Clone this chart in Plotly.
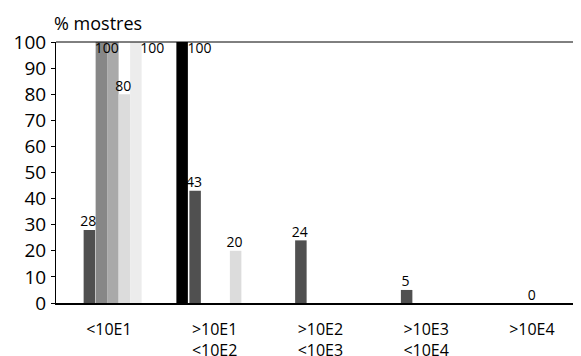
import plotly.graph_objects as go
import numpy as np

# ---- data ----
categories = ["&lt;10E1", "&gt;10E1<br>&lt;10E2", "&gt;10E2<br>&lt;10E3",
              "&gt;10E3<br>&lt;10E4", "&gt;10E4"]
y_tick_vals = list(range(0, 101, 10))
y_title = "% mostres"

black_vals = [None, 100, None, None, None]
dark_vals = [28, 43, 24, 5, None]
mid_vals = [100, None, None, None, None]
gray_vals = [100, None, None, None, None]
light_vals = [80, None, None, None, None]
pale_vals = [100, None, None, None, None]
light2_vals = [None, 20, None, None, None]
zero_vals = [None, None, None, None, 0]

# ---- styles (pixel offsets relative to category centre) ----
CAT_PX = 105.75
BAR_PX = 11.5
PAGE_PAD = 8          # default body margin of the written page
FIG_W, FIG_H = 581, 356
M_L, M_T = 56 - PAGE_PAD, 42 - PAGE_PAD
M_B = FIG_H - (303 - PAGE_PAD)
PLOT_W = FIG_W - M_L
series = [
    # values, colour, bar centre px, label dx px, show label
    (black_vals, "#000000", -32.5, 17.5, True),
    (dark_vals, "#505050", -19.5, -1.0, True),
    (mid_vals, "#878787", -7.5, 5.5, True),
    (gray_vals, "#a9a9a9", 4.0, 0.0, False),
    (light_vals, "#dcdcdc", 15.5, -1.0, True),
    (pale_vals, "#ececec", 27.0, 16.5, True),
    (light2_vals, "#dcdcdc", 21.0, -1.0, True),
    (zero_vals, "#505050", 0.0, 0.0, True),
]

FONT = "Open Sans, Noto Sans, sans-serif"
fig = go.Figure()
idx = np.arange(len(categories))
for vals, color, cpx, dx, show in series:
    xs = idx + cpx / CAT_PX
    fig.add_trace(go.Bar(x=xs, y=vals, width=BAR_PX / CAT_PX,
                         marker=dict(color=color, line=dict(width=0)),
                         hoverinfo="y", showlegend=False))
for vals, color, cpx, dx, show in series:
    if not show:
        continue
    pts = [(i, v) for i, v in enumerate(vals) if v is not None]
    fig.add_trace(go.Scatter(
        x=[i + (cpx + dx) / CAT_PX for i, v in pts],
        y=[v for i, v in pts],
        text=[str(v) for i, v in pts],
        mode="text",
        textposition=["bottom center" if v >= 100 else "top center" for i, v in pts],
        textfont=dict(family=FONT, size=14, color="#000"),
        cliponaxis=False, hoverinfo="skip", showlegend=False))

fig.update_layout(
    width=FIG_W, height=FIG_H,
    margin=dict(l=M_L, r=0, t=M_T, b=M_B, autoexpand=False),
    barmode="overlay",
    paper_bgcolor="white", plot_bgcolor="white",
    font=dict(family=FONT, color="#000"),
    xaxis=dict(range=[-0.5, -0.5 + PLOT_W / CAT_PX], tickmode="array",
               tickvals=list(idx), ticktext=categories, showgrid=False,
               zeroline=False, showline=True, linecolor="#000", linewidth=2,
               ticks="", tickfont=dict(size=16, family=FONT),
               ticklabelstandoff=11, automargin=False),
    yaxis=dict(range=[0, 100], tickmode="array", tickvals=y_tick_vals,
               showgrid=False, zeroline=False, showline=True, linecolor="#000",
               linewidth=1, ticks="outside", ticklen=4, tickcolor="#000",
               tickfont=dict(size=19, family=FONT), ticklabelstandoff=1,
               automargin=False),
    shapes=[dict(type="line", xref="paper", yref="paper", x0=0, x1=1, y0=1, y1=1,
                 line=dict(color="#000", width=1))],
    annotations=[dict(text=y_title, xref="paper", yref="paper", x=0, y=1,
                      xanchor="left", yanchor="bottom", yshift=5, xshift=-4,
                      showarrow=False,
                      font=dict(size=18, family=FONT, color="#000"))],
)

fig.write_html("out.html")
